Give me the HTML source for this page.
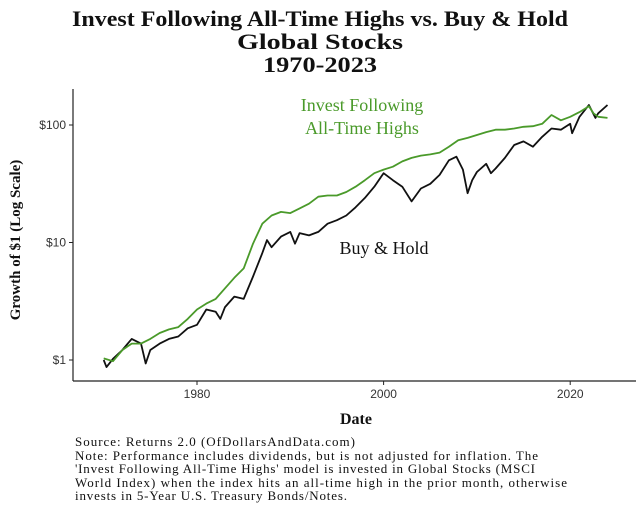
<!DOCTYPE html>
<html><head><meta charset="utf-8"><style>
html,body{margin:0;padding:0;background:#fff;}
svg{display:block;}
.serif{font-family:"Liberation Serif",serif;}
.sans{font-family:"Liberation Sans",sans-serif;}
</style></head><body>
<svg id="chart" width="640" height="511" viewBox="0 0 640 511">
<g class="serif" font-weight="bold" font-size="22" text-anchor="middle" fill="#111">
<text x="320" y="26" textLength="496" lengthAdjust="spacingAndGlyphs">Invest Following All-Time Highs vs. Buy &amp; Hold</text>
<text x="320" y="49" textLength="166" lengthAdjust="spacingAndGlyphs">Global Stocks</text>
<text x="320" y="72" textLength="114" lengthAdjust="spacingAndGlyphs">1970-2023</text>
</g>
<line x1="73" y1="89" x2="73" y2="381" stroke="#222" stroke-width="1.2"/>
<line x1="73" y1="381" x2="636" y2="381" stroke="#222" stroke-width="1.2"/>
<g id="yticks"></g><g id="xticks"></g>
<g id="series"></g>
<text class="serif" x="362" y="111" font-size="18" fill="#4a9a2a" text-anchor="middle">Invest Following</text>
<text class="serif" x="362" y="134" font-size="18" fill="#4a9a2a" text-anchor="middle">All-Time Highs</text>
<text class="serif" x="384" y="254" font-size="18" fill="#111" text-anchor="middle">Buy &amp; Hold</text>
<text class="serif" x="20" y="240" font-size="15" font-weight="bold" fill="#111" text-anchor="middle" transform="rotate(-90 20 240)">Growth of $1 (Log Scale)</text>
<text class="serif" x="356" y="424" font-size="16" font-weight="bold" fill="#111" text-anchor="middle">Date</text>
<g class="serif" font-size="13" fill="#111">
<text x="75" y="446" textLength="280">Source:  Returns 2.0 (OfDollarsAndData.com)</text>
<text x="75" y="460" textLength="463">Note: Performance includes dividends, but is not adjusted for inflation. The</text>
<text x="75" y="473" textLength="460">'Invest Following All-Time Highs' model is invested in Global Stocks (MSCI</text>
<text x="75" y="487" textLength="492">World Index) when the index hits an all-time high in the prior month, otherwise</text>
<text x="75" y="500" textLength="272">invests in 5-Year U.S. Treasury Bonds/Notes.</text>
</g>
</svg>
<script>
const NS="http://www.w3.org/2000/svg";
const yTickValues=[1,10,100];
const yTickLabels=["$1","$10","$100"];
const xTickValues=[1980,2000,2020];
const xTickLabels=["1980","2000","2020"];
const investYears=[1970,1971,1972,1973,1974,1975,1976,1977,1978,1979,1980,1981,1982,1983,1984,1985,1986,1987,1988,1989,1990,1991,1992,1993,1994,1995,1996,1997,1998,1999,2000,2001,2002,2003,2004,2005,2006,2007,2008,2009,2010,2011,2012,2013,2014,2015,2016,2017,2018,2019,2020,2021,2022,2022.5,2023,2024];
const investLog=[0.014,-0.01,0.085,0.14,0.14,0.18,0.23,0.26,0.28,0.35,0.43,0.48,0.52,0.61,0.70,0.78,0.99,1.16,1.23,1.26,1.25,1.29,1.33,1.39,1.40,1.40,1.43,1.475,1.53,1.59,1.62,1.645,1.69,1.72,1.74,1.75,1.765,1.815,1.87,1.89,1.915,1.94,1.96,1.96,1.97,1.985,1.99,2.01,2.085,2.04,2.07,2.11,2.16,2.10,2.07,2.06];
const buyYears=[1970,1970.3,1971,1972,1973,1974,1974.5,1975,1976,1977,1978,1979,1980,1981,1982,1982.5,1983,1984,1985,1986,1987,1987.5,1988,1989,1990,1990.5,1991,1992,1993,1994,1995,1996,1997,1998,1999,2000,2001,2002,2003,2004,2005,2006,2007,2007.8,2008.5,2009,2009.5,2010,2011,2011.5,2012,2013,2014,2015,2016,2017,2018,2019,2020,2020.2,2021,2022,2022.7,2023,2024];
const buyLog=[0,-0.06,0.01,0.085,0.18,0.14,-0.03,0.085,0.14,0.18,0.20,0.27,0.30,0.43,0.41,0.35,0.45,0.54,0.52,0.71,0.91,1.02,0.96,1.05,1.09,0.99,1.08,1.06,1.09,1.16,1.19,1.23,1.30,1.38,1.475,1.59,1.53,1.475,1.35,1.46,1.50,1.575,1.70,1.73,1.62,1.42,1.53,1.60,1.67,1.59,1.63,1.72,1.83,1.86,1.815,1.90,1.97,1.96,2.01,1.93,2.07,2.17,2.06,2.10,2.17];
function xs(yr){return 197+(yr-1980)*9.33;}
function ysLog(l){return 360-l*117.5;}
function ys(v){return ysLog(Math.log10(v));}
const yt=document.getElementById('yticks');
yTickValues.forEach((v,i)=>{
 const y=ys(v);
 const l=document.createElementNS(NS,'line');
 l.setAttribute('x1',69);l.setAttribute('x2',73);l.setAttribute('y1',y);l.setAttribute('y2',y);l.setAttribute('stroke','#222');
 
 
 yt.appendChild(l);
 const t=document.createElementNS(NS,'text');
 t.setAttribute('x',66);t.setAttribute('y',y+4);t.setAttribute('text-anchor','end');t.setAttribute('font-size','12');t.setAttribute('fill','#333');t.setAttribute('class','sans');
 t.textContent=yTickLabels[i];
 
 
 yt.appendChild(t);
});
const xt=document.getElementById('xticks');
xTickValues.forEach((v,i)=>{
 const x=xs(v);
 const l=document.createElementNS(NS,'line');
 l.setAttribute('x1',x);l.setAttribute('x2',x);l.setAttribute('y1',381);l.setAttribute('y2',385);l.setAttribute('stroke','#222');
 
 
 xt.appendChild(l);
 const t=document.createElementNS(NS,'text');
 t.setAttribute('x',x);t.setAttribute('y',398);t.setAttribute('text-anchor','middle');t.setAttribute('font-size','12');t.setAttribute('fill','#333');t.setAttribute('class','sans');
 t.textContent=xTickLabels[i];
 
 
 xt.appendChild(t);
});
function line(years,vals,color,name){
 const p=document.createElementNS(NS,'path');
 p.setAttribute('d',years.map((yr,i)=>(i?'L':'M')+xs(yr).toFixed(1)+','+ysLog(vals[i]).toFixed(1)).join(''));
 p.setAttribute('fill','none');p.setAttribute('stroke',color);p.setAttribute('stroke-width','1.8');p.setAttribute('stroke-linejoin','round');
 
 
 document.getElementById('series').appendChild(p);
}
line(buyYears,buyLog,'#111','buy-hold-line');
line(investYears,investLog,'#4a9a2a','invest-ath-line');
</script>
</body></html>
